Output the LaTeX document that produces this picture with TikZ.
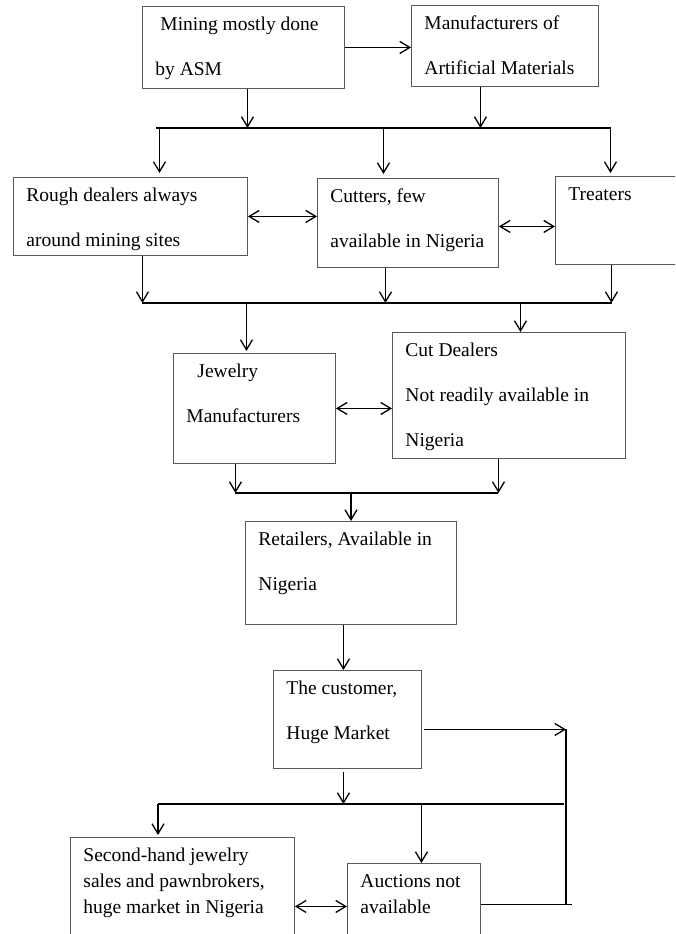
\documentclass[tikz,border=0pt]{standalone}
\usepackage{fontspec}
\setmainfont{Liberation Serif}
\usetikzlibrary{arrows.meta}
\newcommand{\boxtxt}[3]{\parbox[t][#2pt][t]{#1pt}{\raggedright\leftskip=13pt\rule{0pt}{24pt}#3}}
\begin{document}
\begin{tikzpicture}[x=1pt,y=-1pt,
  box/.style={draw=black!65,line width=0.9pt,anchor=north west,inner sep=0pt,
    font=\fontsize{19.5}{26}\selectfont},
  line/.style={line width=1.3pt},
  arr/.style={line,-{Straight Barb[length=10pt,width=12pt]}},
  dbl/.style={line,{Straight Barb[length=10pt,width=12pt]}-{Straight Barb[length=10pt,width=12pt]}}]
  \useasboundingbox (0,0) rectangle (675,934);
  \fill[white] (0,0) rectangle (675,934);
  \clip (0,0) rectangle (675,934);
  % boxes
  \node[box] (mining)     at (142,6)   {\boxtxt{202}{82}{\hspace*{5pt}Mining mostly done\\[19pt]by ASM}};
  \node[box] (artif)      at (411,5)   {\boxtxt{187}{81}{Manufacturers of\\[19pt]Artificial Materials}};
  \node[box] (rough)      at (13,177)  {\boxtxt{234}{78}{Rough dealers always\\[19pt]around mining sites}};
  \node[box] (cutters)    at (317,178) {\boxtxt{181}{89}{Cutters, few\\[19pt]available in Nigeria}};
  \node[box] (treaters)   at (555,176) {\boxtxt{140}{88}{Treaters}};
  \node[box] (jewelry)    at (173,353) {\boxtxt{162}{110}{\hspace*{11pt}Jewelry\\[19pt]Manufacturers}};
  \node[box] (cutdeal)    at (392,332) {\boxtxt{233}{126}{Cut Dealers\\[19pt]Not readily available in\\[19pt]Nigeria}};
  \node[box] (retail)     at (245,521) {\boxtxt{211}{103}{Retailers, Available in\\[19pt]Nigeria}};
  \node[box] (customer)   at (273,670) {\boxtxt{148}{98}{The customer,\\[19pt]Huge Market}};
  \node[box] (secondhand) at (70,837)  {\boxtxt{224}{138}{Second-hand jewelry\\sales and pawnbrokers,\\huge market in Nigeria}};
  \node[box] (auctions)   at (347,863) {\boxtxt{133}{82}{Auctions not\\available}};
  % junction bars
  \coordinate (t1) at (156,128); \coordinate (t2) at (611,128);
  \coordinate (t3) at (142,303); \coordinate (t4) at (612,303);
  \coordinate (t5) at (235,493); \coordinate (t6) at (498,493);
  \coordinate (t7) at (158,804); \coordinate (t8) at (564,804);
  \coordinate (r1) at (566,729); \coordinate (r2) at (572,904);
  \draw[line] (t1) -- (t2);
  \draw[line] (t3) -- (t4);
  \draw[line] (t5) -- (t6);
  \draw[line] (t7) -- (t8);
  % top level
  \draw[arr] (mining.east) -- (mining.east -| artif.west);
  \draw[arr] ([xshift=4pt]mining.south) -- ([xshift=4pt]mining.south |- t1);
  \draw[arr] ([xshift=-24.5pt]artif.south) -- ([xshift=-24.5pt]artif.south |- t1);
  \draw[arr,shorten >=4pt] ([xshift=29pt]rough.north |- t1) -- ([xshift=29pt]rough.north);
  \draw[arr,shorten >=4pt] ([xshift=-24.5pt]cutters.north |- t1) -- ([xshift=-24.5pt]cutters.north);
  \draw[arr,shorten >=3pt] ([xshift=-15pt]treaters.north |- t1) -- ([xshift=-15pt]treaters.north);
  \draw[dbl] (rough.east) -- (rough.east -| cutters.west);
  \draw[dbl] ([yshift=-3.5pt]cutters.east) -- ([yshift=-3.5pt]cutters.east -| treaters.west);
  % second level
  \draw[arr] ([xshift=12pt]rough.south) -- ([xshift=12pt]rough.south |- t3);
  \draw[arr] ([xshift=-22.5pt]cutters.south) -- ([xshift=-22.5pt]cutters.south |- t3);
  \draw[arr] ([xshift=-14pt]treaters.south) -- ([xshift=-14pt]treaters.south |- t3);
  \draw[arr,shorten >=2pt] ([xshift=-8pt]jewelry.north |- t3) -- ([xshift=-8pt]jewelry.north);
  \draw[arr] ([xshift=11.5pt]cutdeal.north |- t3) -- ([xshift=11.5pt]cutdeal.north);
  \draw[dbl] (jewelry.east) -- (jewelry.east -| cutdeal.west);
  % retail and customer
  \draw[arr] ([xshift=-19pt]jewelry.south) -- ([xshift=-19pt]jewelry.south |- t5);
  \draw[arr] ([xshift=-10.5pt]cutdeal.south) -- ([xshift=-10.5pt]cutdeal.south |- t5);
  \draw[arr] (retail.north |- t5) -- (retail.north);
  \draw[arr] ([xshift=-4pt]customer.north |- retail.south) -- ([xshift=-4pt]customer.north);
  \draw[arr] ([xshift=2pt,yshift=-10pt]customer.east) -- ([yshift=-10pt]customer.east -| r1);
  \draw[line] (r1) -- (r1 |- r2);
  \draw[line] (auctions.east) -- (auctions.east -| r2);
  % after sale
  \draw[arr] ([xshift=-4pt,yshift=-3pt]customer.south) -- ([xshift=-4pt]customer.south |- t7);
  \draw[arr,shorten >=2pt] (t7) -- (t7 |- secondhand.north);
  \draw[arr] ([xshift=7.5pt]auctions.north |- t7) -- ([xshift=7.5pt]auctions.north);
  \draw[dbl] (secondhand.east) -- (secondhand.east -| auctions.west);
\end{tikzpicture}
\end{document}
